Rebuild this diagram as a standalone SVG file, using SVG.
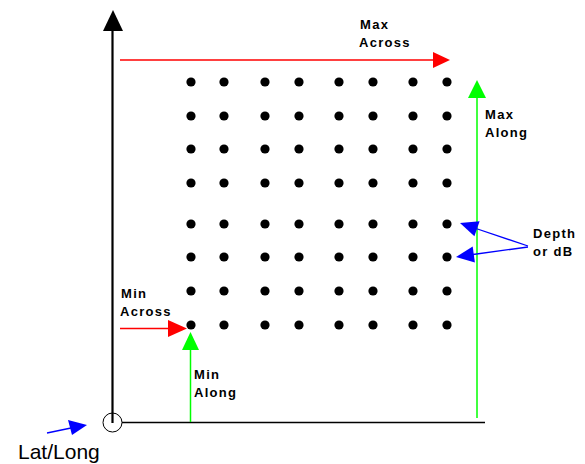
<svg xmlns="http://www.w3.org/2000/svg" width="585" height="464" viewBox="0 0 585 464">
<style>
.lbl{font-family:"Liberation Sans",Arial,sans-serif;font-weight:bold;font-size:13px;letter-spacing:1.3px;fill:#000}
.big{font-family:"Liberation Sans",Arial,sans-serif;font-size:21px;fill:#000}
.red{stroke:#ff0000;stroke-width:1.3;fill:none}
.grn{stroke:#00ff00;stroke-width:1.5;fill:none}
.blu{stroke:#0000ff;stroke-width:1.3;fill:none}
.dot{fill:#000}
</style>
<rect width="585" height="464" fill="#fff"/>
<g id="axes">
<line x1="112.5" y1="30" x2="112.5" y2="423" stroke="#000" stroke-width="2.2"/>
<polygon points="103,31 123,31 113,10" fill="#000"/>
<line x1="122" y1="422.5" x2="485" y2="422.5" stroke="#000" stroke-width="1.5"/>
<circle cx="112.5" cy="422.5" r="9.5" fill="none" stroke="#000" stroke-width="1"/>
</g>
<g id="grid">
<g class="dot">
<circle cx="191" cy="82" r="4.6"/><circle cx="224" cy="82" r="4.6"/><circle cx="265" cy="82" r="4.6"/><circle cx="299" cy="82" r="4.6"/><circle cx="339" cy="82" r="4.6"/><circle cx="373" cy="82" r="4.6"/><circle cx="413" cy="82" r="4.6"/><circle cx="447" cy="82" r="4.6"/>
<circle cx="191" cy="116" r="4.6"/><circle cx="224" cy="116" r="4.6"/><circle cx="265" cy="116" r="4.6"/><circle cx="299" cy="116" r="4.6"/><circle cx="339" cy="116" r="4.6"/><circle cx="373" cy="116" r="4.6"/><circle cx="413" cy="116" r="4.6"/><circle cx="447" cy="116" r="4.6"/>
<circle cx="191" cy="149" r="4.6"/><circle cx="224" cy="149" r="4.6"/><circle cx="265" cy="149" r="4.6"/><circle cx="299" cy="149" r="4.6"/><circle cx="339" cy="149" r="4.6"/><circle cx="373" cy="149" r="4.6"/><circle cx="413" cy="149" r="4.6"/><circle cx="447" cy="149" r="4.6"/>
<circle cx="191" cy="183" r="4.6"/><circle cx="224" cy="183" r="4.6"/><circle cx="265" cy="183" r="4.6"/><circle cx="299" cy="183" r="4.6"/><circle cx="339" cy="183" r="4.6"/><circle cx="373" cy="183" r="4.6"/><circle cx="413" cy="183" r="4.6"/><circle cx="447" cy="183" r="4.6"/>
<circle cx="191" cy="224" r="4.6"/><circle cx="224" cy="224" r="4.6"/><circle cx="265" cy="224" r="4.6"/><circle cx="299" cy="224" r="4.6"/><circle cx="339" cy="224" r="4.6"/><circle cx="373" cy="224" r="4.6"/><circle cx="413" cy="224" r="4.6"/><circle cx="447" cy="224" r="4.6"/>
<circle cx="191" cy="257" r="4.6"/><circle cx="224" cy="257" r="4.6"/><circle cx="265" cy="257" r="4.6"/><circle cx="299" cy="257" r="4.6"/><circle cx="339" cy="257" r="4.6"/><circle cx="373" cy="257" r="4.6"/><circle cx="413" cy="257" r="4.6"/><circle cx="447" cy="257" r="4.6"/>
<circle cx="191" cy="291" r="4.6"/><circle cx="224" cy="291" r="4.6"/><circle cx="265" cy="291" r="4.6"/><circle cx="299" cy="291" r="4.6"/><circle cx="339" cy="291" r="4.6"/><circle cx="373" cy="291" r="4.6"/><circle cx="413" cy="291" r="4.6"/><circle cx="447" cy="291" r="4.6"/>
<circle cx="191" cy="325" r="4.6"/><circle cx="224" cy="325" r="4.6"/><circle cx="265" cy="325" r="4.6"/><circle cx="299" cy="325" r="4.6"/><circle cx="339" cy="325" r="4.6"/><circle cx="373" cy="325" r="4.6"/><circle cx="413" cy="325" r="4.6"/><circle cx="447" cy="325" r="4.6"/>
</g>
</g>
<g id="connectors">
<line class="red" x1="120" y1="60" x2="434" y2="60"/>
<polygon points="433,52 450,60 433,68" fill="#ff0000"/>
<line class="red" x1="120" y1="328.5" x2="169" y2="328.5"/>
<polygon points="168,320 187,328.5 168,337" fill="#ff0000"/>
<line class="grn" x1="477" y1="97" x2="477" y2="418"/>
<polygon points="468,98 486,98 477,80" fill="#00ff00"/>
<line class="grn" x1="190.5" y1="349" x2="190.5" y2="422"/>
<polygon points="182,350 199,350 190.5,332" fill="#00ff00"/>
<line class="blu" x1="528" y1="246" x2="476" y2="228.5"/>
<polygon points="460,223 479.6,221.2 474.4,236.3" fill="#0000ff"/>
<line class="blu" x1="528" y1="247" x2="473" y2="254.5"/>
<polygon points="456,257 474.9,262.4 472.7,246.6" fill="#0000ff"/>
<line class="blu" x1="47" y1="433" x2="71" y2="428"/>
<polygon points="87,425 68,420 72,435" fill="#0000ff"/>
</g>
<g id="max-across"><text class="lbl" x="360" y="29">Max</text><text class="lbl" x="359" y="47">Across</text></g>
<g id="max-along"><text class="lbl" x="485" y="119">Max</text><text class="lbl" x="485" y="137">Along</text></g>
<g id="depth"><text class="lbl" x="533" y="238">Depth</text><text class="lbl" x="533" y="256">or  dB</text></g>
<g id="min-across"><text class="lbl" x="121" y="298">Min</text><text class="lbl" x="120" y="316">Across</text></g>
<g id="min-along"><text class="lbl" x="194" y="379">Min</text><text class="lbl" x="194" y="397">Along</text></g>
<g id="latlong"><text class="big" x="18" y="459">Lat/Long</text></g>
</svg>
